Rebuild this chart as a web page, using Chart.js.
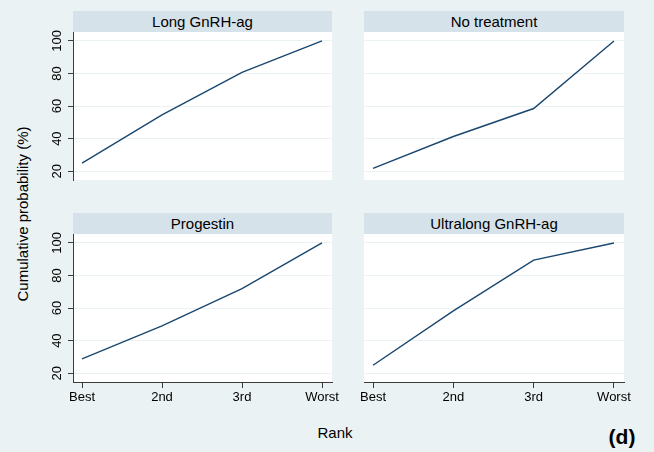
<!DOCTYPE html>
<html>
<head>
<meta charset="utf-8">
<script src="https://cdn.jsdelivr.net/npm/chart.js@4"></script>
<style>
  body { margin: 0; background: #eaf2f3; }
  #wrap { position: relative; width: 654px; height: 452px; background: #eaf2f3; font-family: "Liberation Sans", Arial, sans-serif; overflow: hidden; }
  canvas { position: absolute; }
  .strip { position: absolute; height: 21px; line-height: 21px; background: #d6e2e9; text-align: center; font-size: 15px; color: #000; }
  .lbl { position: absolute; font-size: 15px; color: #000; white-space: nowrap; }
</style>
</head>
<body>
<div id="wrap">
  <canvas id="c1" width="312" height="172" style="left:40px; top:20px;"></canvas>
  <canvas id="c2" width="300" height="172" style="left:344px; top:20px;"></canvas>
  <canvas id="c3" width="312" height="185" style="left:40px; top:222px;"></canvas>
  <canvas id="c4" width="300" height="185" style="left:344px; top:222px;"></canvas>
  <div class="strip" style="left:73px; top:11px; width:259px;">Long GnRH-ag</div>
  <div class="strip" style="left:364px; top:11px; width:260px;">No treatment</div>
  <div class="strip" style="left:73px; top:213px; width:259px;">Progestin</div>
  <div class="strip" style="left:364px; top:213px; width:260px;">Ultralong GnRH-ag</div>
  <div class="lbl" style="left:22px; top:214px; transform: translate(-50%, -50%) rotate(-90deg);">Cumulative probability (%)</div>
  <div class="lbl" style="left:335px; top:432px; transform: translate(-50%, -50%);">Rank</div>
  <div class="lbl" style="left:622px; top:437px; transform: translate(-50%, -50%); font-size: 21px; font-weight: bold;">(d)</div>
</div>
<script>
// ranks on the x axis
const ranks = ["Best", "2nd", "3rd", "Worst"];
const yTicks = [20, 40, 60, 80, 100];

// cumulative probabilities (%)
const longGnRH = [25, 54.6, 80.7, 100];
const noTreatment = [21.8, 41.3, 58.5, 100];
const progestin = [28.8, 49.1, 71.9, 100];
const ultralong = [24.9, 58.3, 89.5, 100];

const axisColor = "#3c3c3c";
const tickFont = { family: "'Liberation Sans', Arial, sans-serif", size: 13 };

// white plot region behind the lines
const plotBg = {
    id: "plotBg",
    beforeDraw(chart) {
        const a = chart.chartArea;
        chart.ctx.save();
        chart.ctx.fillStyle = "#ffffff";
        chart.ctx.fillRect(a.left, a.top, a.right - a.left, a.bottom - a.top);
        chart.ctx.restore();
    }
};

function makePanel(id, values, showY, showX) {
    const pts = values.map((v, i) => ({ x: i, y: v }));
    return new Chart(document.getElementById(id), {
        type: "line",
        data: {
            datasets: [{
                data: pts,
                borderColor: "#1a476f",
                borderWidth: 1.4,
                pointRadius: 0,
                tension: 0,
                fill: false
            }]
        },
        options: {
            responsive: false,
            animation: false,
            // extra room so the rotated tick labels don't squeeze the plot
            layout: { padding: { left: 0, top: 12, bottom: showX ? 0 : 12, right: 20 }, autoPadding: false },
            plugins: { legend: { display: false }, tooltip: { enabled: false } },
            scales: {
                x: {
                    type: "linear",
                    display: showX,
                    min: -0.1125,
                    max: 3.125,
                    afterBuildTicks: s => { s.ticks = ranks.map((r, i) => ({ value: i })); },
                    afterFit: s => { if (showX) s.height = 25; },
                    border: { display: true, color: axisColor, width: 1 },
                    grid: { drawOnChartArea: false, drawTicks: true, tickLength: 6, tickColor: axisColor },
                    ticks: {
                        padding: 2,
                        maxRotation: 0,
                        color: "#000",
                        font: tickFont,
                        callback: v => ranks[v]
                    }
                },
                y: {
                    min: 14.6,
                    max: 105.5,
                    afterBuildTicks: s => { s.ticks = yTicks.map(v => ({ value: v })); },
                    afterFit: s => { s.width = showY ? 33 : 20; },
                    border: { display: showY, color: axisColor, width: 1 },
                    grid: { color: "#eaf2f3", lineWidth: 1, drawTicks: showY, tickLength: 5, tickColor: axisColor },
                    ticks: {
                        display: showY,
                        minRotation: 90,
                        maxRotation: 90,
                        crossAlign: "center",
                        padding: 0,
                        color: "#000",
                        font: tickFont
                    }
                }
            }
        },
        plugins: [plotBg]
    });
}

makePanel("c1", longGnRH, true, false);
makePanel("c2", noTreatment, false, false);
makePanel("c3", progestin, true, true);
makePanel("c4", ultralong, false, true);
</script>
</body>
</html>
